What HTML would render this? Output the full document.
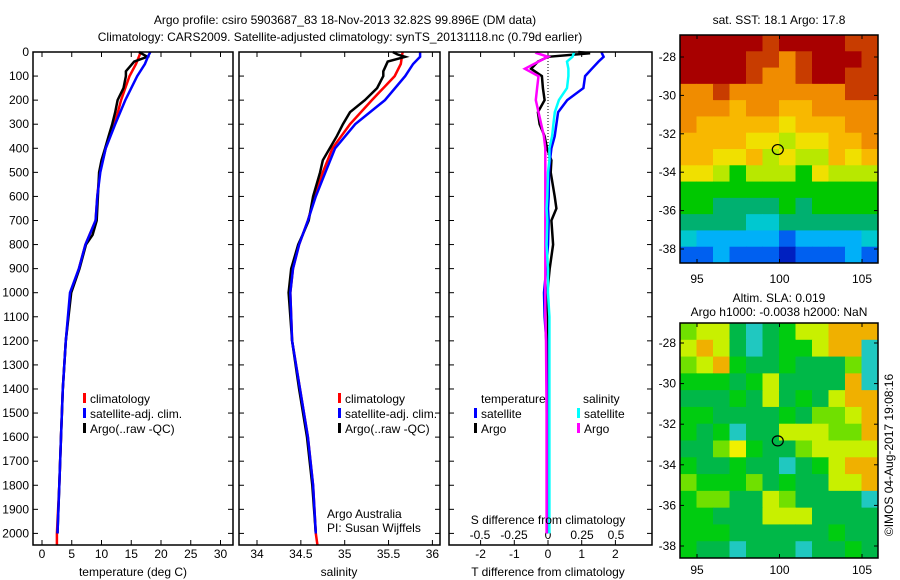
<!DOCTYPE html>
<html><head><meta charset="utf-8">
<style>
html,body{margin:0;padding:0;background:#fff;}
svg{display:block;font-family:"Liberation Sans",sans-serif;}
text{font-size:12px;fill:#000;}
</style></head>
<body>
<svg id="chart" width="900" height="580" viewBox="0 0 900 580" xmlns="http://www.w3.org/2000/svg">
<rect width="900" height="580" fill="#fff"/>
<text x="345" y="24" text-anchor="middle">Argo profile: csiro 5903687_83 18-Nov-2013 32.82S 99.896E (DM data)</text>
<text x="340" y="41" text-anchor="middle">Climatology: CARS2009. Satellite-adjusted climatology: synTS_20131118.nc (0.79d earlier)</text>
<g id="g1"></g>
<g id="g2"></g>
<g id="g3"></g>
<g id="m1"></g>
<g id="m2"></g>
<text transform="translate(893,455) rotate(-90)" text-anchor="middle">©IMOS 04-Aug-2017 19:08:16</text>
</svg>
<script>
// ---- data ----
const depthTicks = [0,100,200,300,400,500,600,700,800,900,1000,1100,1200,1300,1400,1500,1600,1700,1800,1900,2000];
const tempTicks = [0,5,10,15,20,25,30];
const salTicks = [34,34.5,35,35.5,36];
const tdTicks = [-2,-1,0,1,2];
const sdTicks = [-0.5,-0.25,0,0.25,0.5];
const sdTickLabels = ['-0.5','-0.25','0','0.25','0.5'];

const climDepth = [0,50,100,200,300,400,500,600,700,800,900,1000,1200,1400,1600,1800,2000,2050];
const climTemp  = [16.6,15.8,14.7,13.3,12.2,10.7,9.7,9.3,9.0,7.3,6.2,4.8,4.0,3.5,3.2,2.9,2.5,2.5];
const climSal   = [35.66,35.64,35.57,35.31,35.06,34.86,34.75,34.66,34.58,34.48,34.41,34.38,34.40,34.49,34.58,34.64,34.67,34.69];

const satDepth = [0,20,50,100,200,300,400,500,600,700,800,900,1000,1200,1400,1600,1800,2000];
const satTemp  = [18.2,17.8,17.3,16.0,14.0,12.3,10.7,9.8,9.3,9.0,7.3,6.2,4.7,4.0,3.5,3.2,2.9,2.6];
const satSal   = [35.86,35.86,35.78,35.69,35.46,35.12,34.89,34.78,34.67,34.58,34.48,34.41,34.38,34.40,34.49,34.58,34.64,34.67];

const argoDepth = [0,10,20,40,80,100,150,200,250,300,350,400,450,500,600,700,760,800,900,1000,1200,1400,1600,1800,2000];
const argoTemp  = [16.3,17.0,17.7,15.5,14.1,14.1,13.7,12.7,12.3,11.8,11.2,10.6,10.0,9.6,9.4,9.2,8.5,7.4,6.3,4.9,4.0,3.5,3.2,2.9,2.6];
const argoSal   = [35.55,35.60,35.69,35.49,35.44,35.44,35.37,35.23,35.06,34.98,34.91,34.83,34.75,34.72,34.64,34.59,34.52,34.47,34.39,34.36,34.40,34.48,34.57,34.63,34.67];

const dDepth = [0,5,20,40,70,100,150,200,250,300,350,400,450,500,600,650,700,800,900,1000,1100,1200,1500,1800,2000];
const satTdiff = [1.6,1.6,1.65,1.5,1.3,1.1,1.05,0.57,0.3,0.25,0.2,0.1,0.06,0.03,0.02,0.0,0.02,0.0,-0.05,-0.12,-0.1,-0.05,-0.03,-0.03,-0.03];
const argoTdiff = [0.9,1.25,0.0,-0.3,-0.5,-0.18,-0.15,-0.1,-0.3,-0.25,-0.1,-0.03,0.1,0.08,0.2,0.25,0.1,0.15,0.05,-0.02,0.0,0.0,-0.02,-0.03,-0.03];
const satSdiff = [0.19,0.19,0.18,0.14,0.15,0.15,0.14,0.08,0.05,0.04,0.03,0.01,0.01,0.0,-0.005,-0.01,-0.005,-0.01,0.0,0.0,0.01,0.01,0.01,0.01,0.01];
const argoSdiff = [-0.07,-0.08,0.0,-0.07,-0.17,-0.07,-0.08,-0.09,-0.07,-0.05,-0.03,-0.02,-0.02,-0.02,-0.02,-0.02,-0.02,-0.02,-0.02,-0.02,-0.02,-0.015,-0.01,-0.01,-0.01];

const sstRows = ["bbbbbabbbbaa","bbbbaa9abbba","bbbba99abbaa","99a9999999aa","999899889999","988888788899","888877677889","887786766878","776566657666","555555555555","554444545555","444433444444","322222122223","112111011121"];
const slaRows = ["lyydcdgyyooo","yoydcdggyooc","lyogddgdddlc","gggdgyddddoc","dddgdydgdyoo","ggddddgdllyo","gdgcddyyyllo","ddlYgddlyyyy","gddgddcdgyoo","lgggldgddyyo","gllddylddddc","ggdddyyydddd","gggddddddgdd","gddcdddcddgd"];
const lonTicks = [95,100,105];
const latTicks = [-28,-30,-32,-34,-36,-38];
const argoLon = 99.896, argoLat = -32.82;

// ---- helpers ----
const NS="http://www.w3.org/2000/svg";
function mk(tag, parent, attrs){const e=document.createElementNS(NS,tag);for(const k in attrs)e.setAttribute(k,attrs[k]);parent.appendChild(e);return e;}
const yD = d => 52 + d*0.2407;
const xT = t => 42 + t*5.95;
const xS = s => 257 + (s-34)*87.7;
const xTd = v => 548 + v*33.7;
const xSd = v => 548 + v*136;
const TOP=52, BOT=545;

function frame(g, x0, x1, name){
  const r=mk('rect',g,{x:x0,y:TOP,width:x1-x0,height:BOT-TOP,fill:'none',stroke:'#000','stroke-width':1.5});
  
  
}
function xticks(g, vals, fx, labels, ly){
  vals.forEach((v,i)=>{
    const x=fx(v);
    mk('line',g,{x1:x,x2:x,y1:TOP,y2:TOP+5,stroke:'#000'});
    mk('line',g,{x1:x,x2:x,y1:BOT,y2:BOT-5,stroke:'#000'});
    if(labels){const t=mk('text',g,{x:x,y:ly,'text-anchor':'middle'});t.textContent=labels[i];
      
      }
  });
}
function yticks(g, x0, x1, left){
  depthTicks.forEach(d=>{
    const y=yD(d);
    mk('line',g,{x1:x0,x2:x0+5,y1:y,y2:y,stroke:'#000'});
    mk('line',g,{x1:x1,x2:x1-5,y1:y,y2:y,stroke:'#000'});
    if(left){const t=mk('text',g,{x:29,y:y+4,'text-anchor':'end'});t.textContent=d;
      
      }
  });
}
function line(g, xs, ds, fx, color, name, w){
  const pts=xs.map((v,i)=>fx(v).toFixed(1)+','+yD(ds[i]).toFixed(1)).join(' ');
  const p=mk('polyline',g,{points:pts,fill:'none',stroke:color,'stroke-width':w||2.5,'stroke-linejoin':'miter'});
  
  
}
function legend(g, x, y, color, label){
  mk('rect',g,{x:x,y:y-10,width:3,height:10,fill:color});
  const t=mk('text',g,{x:x+7,y:y});t.textContent=label;
  
  
}
function label(g,x,y,s,anchor,name){const t=mk('text',g,{x:x,y:y,'text-anchor':anchor||'start'});t.textContent=s;
  
  }

// ---- panel 1 ----
const g1=document.getElementById('g1');
yticks(g1,33,233,true);
xticks(g1,tempTicks,xT,tempTicks.map(String),558);
line(g1,climTemp,climDepth,xT,'#f00','temp-climatology-line');
line(g1,argoTemp,argoDepth,xT,'#000','temp-argo-line');
line(g1,satTemp,satDepth,xT,'#00f','temp-satellite-line');
frame(g1,33,233,'temperature-axes');
label(g1,133,576,'temperature (deg C)','middle','x-axis-title-temperature');
legend(g1,83,403,'#f00','climatology');
legend(g1,83,418,'#00f','satellite-adj. clim.');
legend(g1,83,433,'#000','Argo(..raw -QC)');

// ---- panel 2 ----
const g2=document.getElementById('g2');
yticks(g2,239,440,false);
xticks(g2,salTicks,xS,salTicks.map(String),558);
line(g2,climSal,climDepth,xS,'#f00','sal-climatology-line');
line(g2,argoSal,argoDepth,xS,'#000','sal-argo-line');
line(g2,satSal,satDepth,xS,'#00f','sal-satellite-line');
frame(g2,239,440,'salinity-axes');
label(g2,339,576,'salinity','middle','x-axis-title-salinity');
legend(g2,338,403,'#f00','climatology');
legend(g2,338,418,'#00f','satellite-adj. clim.');
legend(g2,338,433,'#000','Argo(..raw -QC)');
label(g2,327,518,'Argo Australia','start','credit-argo-australia');
label(g2,327,532,'PI: Susan Wijffels','start','credit-pi');

// ---- panel 3 ----
const g3=document.getElementById('g3');
yticks(g3,449,652,false);
xticks(g3,tdTicks,xTd,tdTicks.map(String),558);
sdTicks.forEach((v,i)=>{const t=mk('text',g3,{x:xSd(v),y:539,'text-anchor':'middle'});t.textContent=sdTickLabels[i];
  
  });
mk('line',g3,{x1:548,x2:548,y1:TOP,y2:yD(450),stroke:'#000','stroke-dasharray':'1,2'});
line(g3,argoTdiff,dDepth,xTd,'#000','tdiff-argo-line');
line(g3,satTdiff,dDepth,xTd,'#00f','tdiff-satellite-line');
line(g3,argoSdiff,dDepth,xSd,'#f0f','sdiff-argo-line');
line(g3,satSdiff,dDepth,xSd,'#0ff','sdiff-satellite-line');
frame(g3,449,652,'difference-axes');
label(g3,548,576,'T difference from climatology','middle','x-axis-title-tdiff');
label(g3,548,524,'S difference from climatology','middle','s-diff-axis-title');
label(g3,481,403,'temperature','start','legend-title-temperature');
label(g3,583,403,'salinity','start','legend-title-salinity');
legend(g3,474,418,'#00f','satellite');
legend(g3,474,433,'#000','Argo');
legend(g3,577,418,'#0ff','satellite');
legend(g3,577,433,'#f0f','Argo');

// ---- maps ----
const sstPal={b:'#a80000',a:'#c83c00','9':'#f08c00','8':'#f8b800','7':'#f0e000','6':'#b8e800','5':'#00c800','4':'#00b070','3':'#00c8d0','2':'#00b0f8','1':'#0060f0','0':'#0020c0'};
const slaPal={g:'#00cc10',d:'#00b848',l:'#70e000',y:'#c8f000',Y:'#f0f000',o:'#f0b000',c:'#20c8c0'};
function map(id, rows, pal, x0, x1, y0, y1, lat0, pxPerLat, title1, title2, labY){
  const g=document.getElementById(id);
  const nr=rows.length, nc=rows[0].length, cw=(x1-x0)/nc, ch=(y1-y0)/nr;
  rows.forEach((r,i)=>{[...r].forEach((c,j)=>{
    const cell=mk('rect',g,{x:x0+j*cw,y:y0+i*ch,width:cw+0.5,height:ch+0.5,fill:pal[c]});
    
    
  });});
  const xL = lon => 697 + (lon-95)*16.5;
  const yL = lat => lat0 + (-28-lat)*pxPerLat;
  const fr=mk('rect',g,{x:x0,y:y0,width:x1-x0,height:y1-y0,fill:'none',stroke:'#000','stroke-width':1.5});
  
  
  lonTicks.forEach(l=>{const x=xL(l);
    mk('line',g,{x1:x,x2:x,y1:y0,y2:y0+4,stroke:'#000'});
    mk('line',g,{x1:x,x2:x,y1:y1,y2:y1-4,stroke:'#000'});
    label(g,x,labY,String(l),'middle','lon-tick-label');});
  latTicks.forEach(l=>{const y=yL(l);
    mk('line',g,{x1:x0,x2:x0+4,y1:y,y2:y,stroke:'#000'});
    mk('line',g,{x1:x1,x2:x1-4,y1:y,y2:y,stroke:'#000'});
    label(g,x0-4,y+4,String(l),'end','lat-tick-label');});
  const c=mk('ellipse',g,{cx:xL(argoLon),cy:yL(argoLat),rx:5.5,ry:5,fill:'none',stroke:'#000','stroke-width':1.2});
  
  
  if(title1) label(g,779,title1[1],title1[0],'middle','map-title');
  if(title2) label(g,779,title2[1],title2[0],'middle','map-subtitle');
}
map('m1',sstRows,sstPal,680,878,35,263,57,19.2,['sat. SST: 18.1 Argo: 17.8',24],null,283);
map('m2',slaRows,slaPal,680,878,323,558,343,20.3,['Altim. SLA: 0.019',302],['Argo h1000: -0.0038 h2000: NaN',316],574);
</script>
</body></html>
